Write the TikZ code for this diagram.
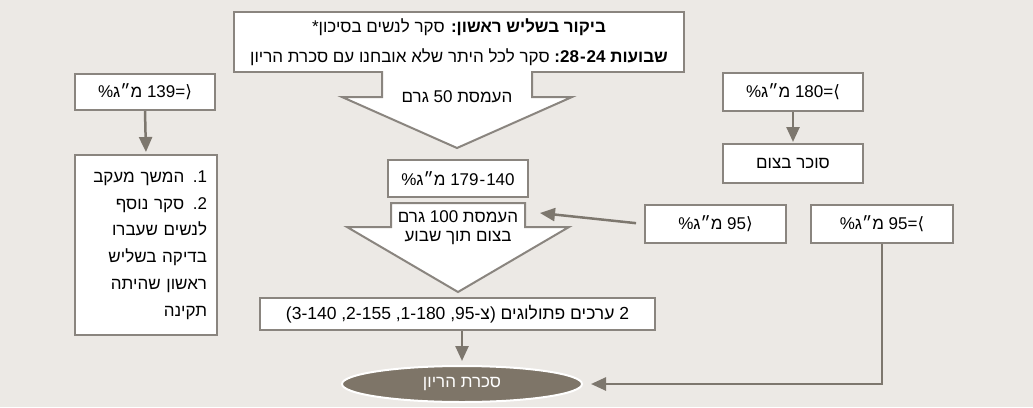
\documentclass[tikz,border=0pt]{standalone}
\usepackage{fontspec}
\setmainfont{Liberation Sans}
\newfontfamily\heb[Script=Hebrew]{Liberation Sans}
\newfontfamily\symf{DejaVu Sans}
\TeXXeTstate=1
\newcommand\LTR[1]{{\rmfamily\beginL#1\endL}}
\usetikzlibrary{arrows.meta,shapes.geometric}
\definecolor{bg}{RGB}{236,233,229}
\definecolor{boxline}{RGB}{138,133,127}
\definecolor{arrc}{RGB}{125,119,110}
\definecolor{ellc}{RGB}{126,117,104}
\begin{document}
\begin{tikzpicture}[x=1pt,y=-1pt,
  box/.style={draw=boxline, line width=2pt, fill=white, inner sep=0pt, font=\heb\fontsize{17}{20}\selectfont},
  conn/.style={draw=arrc, line width=2.5pt, -{Triangle[width=13pt,length=15pt]}},
  blockarrow/.style={draw=boxline, line width=2pt, fill=white, line join=miter},
  lbl/.style={inner sep=0pt, font=\heb\fontsize{17}{21}\selectfont}]

\fill[bg] (0,0) rectangle (1033,407);
\useasboundingbox (0,0) rectangle (1033,407);

% top box
\node[box, minimum width=450pt, minimum height=60pt] (top) at (459,42) {};
\node[lbl] (top1) at (459,27)
 {\beginR\textbf{ביקור בשליש ראשון:} סקר לנשים בסיכון*\endR};
\node[lbl] (top2) at (459,57)
 {\beginR\textbf{שבועות \LTR{:28\kern1pt-\kern1pt24}} סקר לכל היתר שלא אובחנו עם סכרת הריון\endR};

% block arrow 1
\fill[white] (382,70) -- (382,97) -- (342,97) -- (457,148) -- (572,97) -- (532,97) -- (532,70) -- cycle;
\draw[boxline, line width=2pt, line join=miter] (382,71) -- (382,97) -- (342,97) -- (457,148) -- (572,97) -- (532,97) -- (532,71);
\node[lbl] (load1) at (457,97) {\beginR העמסת \LTR{50} גרם\endR};

% 140-179 box
\node[box, minimum width=140pt, minimum height=37pt] (r140) at (458,178.5)
 {\beginR\LTR{179\kern1pt-\kern1pt140} מ״ג\%\endR};

% block arrow 2
\draw[blockarrow] (391,203) -- (525,203) -- (525,227) -- (569,227) -- (458,292) -- (347,227) -- (391,227) -- cycle;
\node[lbl] (load2a) at (458,217) {\beginR העמסת \LTR{100} גרם\endR};
\node[lbl] (load2b) at (458,238) {\beginR בצום תוך שבוע\endR};
\coordinate (arr2in) at (540,213);

% left column
\node[box, minimum width=140pt, minimum height=36pt] (a139) at (145,92)
 {\beginR\LTR{139={\symf ⟩}} מ״ג\%\endR};
\node[box, minimum width=142pt, minimum height=180pt, text width=122pt, align=right,
      font=\heb\fontsize{17}{26.7}\selectfont] (follow) at (146,245)
 {\beginR\LTR{1}. המשך מעקב\endR\\
  \beginR\LTR{2}. סקר נוסף\endR\\
  \beginR לנשים שעברו\endR\\
  \beginR בדיקה בשליש\endR\\
  \beginR ראשון שהיתה\endR\\
  \beginR תקינה\endR};

% right column
\node[box, minimum width=140pt, minimum height=38pt] (a180) at (793,92)
 {\beginR\LTR{180={\symf ⟨}} מ״ג\%\endR};
\node[box, minimum width=140pt, minimum height=39pt] (fast) at (793,163.5)
 {\beginR סוכר בצום\endR};
\node[box, minimum width=141pt, minimum height=38pt] (lt95) at (715.5,224)
 {\beginR\LTR{95{\symf ⟩}} מ״ג\%\endR};
\node[box, minimum width=142pt, minimum height=38pt] (ge95) at (882,224)
 {\beginR\LTR{95={\symf ⟨}} מ״ג\%\endR};

% bottom box
\node[box, minimum width=395pt, minimum height=32pt, font=\heb\fontsize{17.5}{20}\selectfont] (path2) at (457.5,314)
 {\beginR\LTR{2} ערכים פתולוגים \LTR{(3-140 ,2-155 ,1-180 ,95-\kern0pt{\heb צ}\kern0pt)}\endR};

% outcome ellipse
\node[ellipse, fill=ellc, draw=white, line width=2pt, minimum width=240pt, minimum height=36pt,
      inner sep=0pt, text=white, font=\heb\fontsize{17}{20}\selectfont] (gdm) at (462,384)
 {\beginR סכרת הריון\endR};

% connectors
\draw[conn, shorten >=2pt] (a139.south) -- (follow.north);
\draw[conn, shorten >=1pt] (a180.south) -- (fast.north);
\draw[conn, shorten <=8pt] (lt95.west) -- (arr2in);
\draw[conn, shorten >=4pt] (path2.south -| gdm.north) -- (gdm.north);
\draw[conn, shorten >=8pt] (ge95.south) |- (gdm.east);
\end{tikzpicture}
\end{document}
